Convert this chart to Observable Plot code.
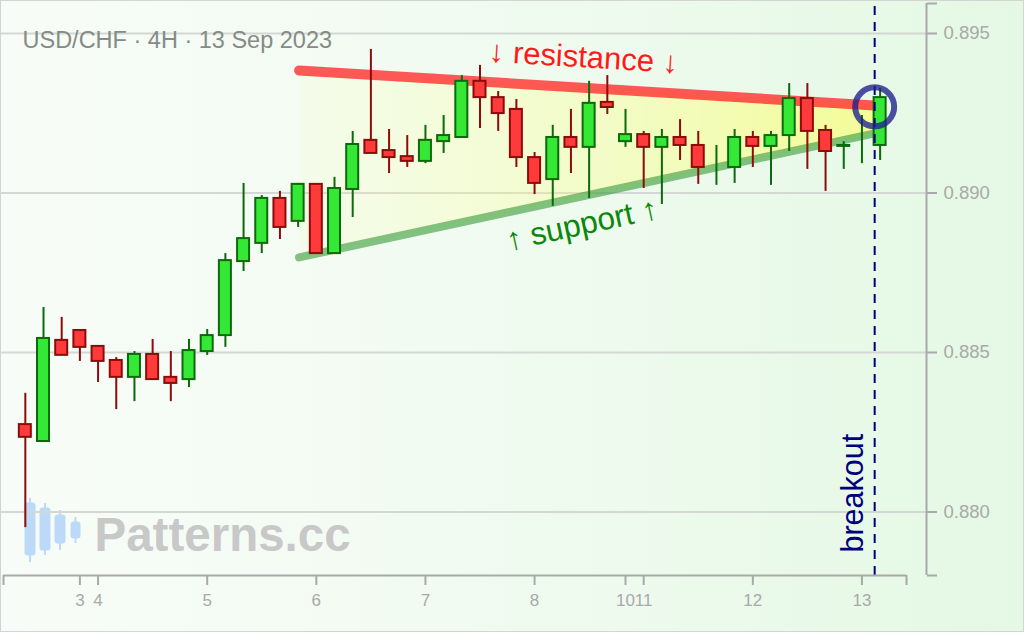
<!DOCTYPE html>
<html>
<head>
<meta charset="utf-8">
<script src="https://cdn.jsdelivr.net/npm/d3@7"></script>
<script src="https://cdn.jsdelivr.net/npm/@observablehq/plot@0.6"></script>
<style>
html, body { margin: 0; padding: 0; }
#wrap { position: relative; width: 1024px; height: 632px; overflow: hidden;
  background: linear-gradient(90deg, #f8fcf8 0%, #f1fbf1 45%, #e4f8e4 100%); }
#logo, #chart { position: absolute; left: 0; top: 0; }
#border { position: absolute; left: 0; top: 0; width: 1022px; height: 630px; border: 1px solid #d2d6d2; pointer-events: none; }
</style>
</head>
<body>
<div id="wrap">
  <svg id="logo" width="1024" height="632">
    <g fill="#bcdaf8" stroke="#bcdaf8">
      <line x1="30" y1="498" x2="30" y2="562" stroke-width="2"/><rect x="25" y="503" width="10" height="52" rx="2"/>
      <line x1="45" y1="503" x2="45" y2="555" stroke-width="2"/><rect x="40" y="508" width="10" height="42" rx="2"/>
      <line x1="60" y1="510" x2="60" y2="550" stroke-width="2"/><rect x="55" y="515" width="10" height="28" rx="2"/>
      <line x1="75.5" y1="517" x2="75.5" y2="543" stroke-width="2"/><rect x="71" y="522" width="9" height="16" rx="2"/>
    </g>
  </svg>
  <div id="chart"></div>
  <div id="border"></div>
</div>
<script>
// ---- data (USD/CHF 4H candles, index order) ----
const opens  = [0.88274,0.88221,0.88538,0.88569,0.88519,0.88475,0.88422,0.88494,0.88422,0.88415,0.88503,0.88553,0.88785,0.88842,0.88983,0.88911,0.89027,0.88810,0.89011,0.89165,0.89133,0.89114,0.89099,0.89161,0.89174,0.89350,0.89299,0.89262,0.89111,0.89042,0.89174,0.89143,0.89284,0.89161,0.89183,0.89143,0.89174,0.89149,0.89090,0.89080,0.89174,0.89146,0.89180,0.89296,0.89196,0.89146,0.89210,0.89149];
const highs  = [0.88372,0.88641,0.88610,0.88572,0.88522,0.88484,0.88503,0.88541,0.88503,0.88541,0.88572,0.88810,0.89030,0.88992,0.89005,0.89030,0.89027,0.89049,0.89193,0.89450,0.89199,0.89180,0.89212,0.89243,0.89368,0.89400,0.89318,0.89293,0.89127,0.89212,0.89262,0.89350,0.89368,0.89262,0.89193,0.89199,0.89230,0.89193,0.89149,0.89199,0.89193,0.89193,0.89343,0.89343,0.89212,0.89161,0.89243,0.89328];
const lows   = [0.87951,0.88221,0.88491,0.88472,0.88406,0.88321,0.88346,0.88415,0.88346,0.88390,0.88491,0.88516,0.88754,0.88810,0.88854,0.88892,0.88810,0.88810,0.88923,0.89124,0.89061,0.89080,0.89092,0.89124,0.89174,0.89202,0.89193,0.89080,0.88995,0.88958,0.89061,0.88983,0.89246,0.89143,0.89014,0.88964,0.89102,0.89027,0.89024,0.89030,0.89080,0.89024,0.89130,0.89074,0.89005,0.89074,0.89092,0.89102];
const closes = [0.88234,0.88544,0.88491,0.88516,0.88472,0.88422,0.88494,0.88415,0.88403,0.88506,0.88553,0.88788,0.88857,0.88983,0.88892,0.89027,0.88810,0.89014,0.89152,0.89124,0.89111,0.89099,0.89165,0.89180,0.89350,0.89299,0.89249,0.89111,0.89030,0.89174,0.89143,0.89281,0.89268,0.89183,0.89143,0.89174,0.89149,0.89080,0.89090,0.89174,0.89146,0.89180,0.89296,0.89193,0.89130,0.89149,0.89210,0.89299];

// day ticks (candle index where each day starts) and labels
const dayIdx    = [3, 4, 10, 16, 22, 28, 33, 34, 40, 46];
const dayLabels = ["3", "4", "5", "6", "7", "8", "10", "11", "12", "13"];
const yTicks      = [0.880, 0.885, 0.890, 0.895];
const yTickLabels = ["0.880", "0.885", "0.890", "0.895"];

// pattern lines (triangle): x in candle index, y in price
const lineX = [15.05, 46.7];
const resistanceY = [0.89384, 0.89274];
const supportY    = [0.88798, 0.89187];
const breakoutX = 46.7;
const breakoutY = 0.8927;

const titleText = "USD/CHF · 4H · 13 Sep 2023";
const resLabel = "↓ resistance ↓";
const supLabel = "↑ support ↑";
const resLabelPos = [30.69, 0.89425];
const supLabelPos = [30.60, 0.88901];

// ---- build ----
const X_DOMAIN = [-1.2, 48.45];
const Y_DOMAIN = [0.878009, 0.89594];
const candles = opens.map((o, i) => ({i, open: o, high: highs[i], low: lows[i], close: closes[i], up: closes[i] >= o}));
const upC = candles.filter(d => d.up), dnC = candles.filter(d => !d.up);
const tri = lineX.map((x, k) => ({x, r: resistanceY[k], s: supportY[k]}));
const AX = "#a9a9a9";
const UPF = "#36e836", UPS = "#0b6a0b", DNF = "#ff3a3a", DNS = "#8e0b0b";
const HW = 0.33;

const chart = Plot.plot({
  width: 1024, height: 632,
  marginTop: 3, marginRight: 98, marginBottom: 57, marginLeft: 0,
  style: {background: "transparent", fontFamily: "'Liberation Sans', Arial, sans-serif", overflow: "visible"},
  x: {domain: X_DOMAIN, range: [3, 906], label: null},
  y: {domain: Y_DOMAIN, label: null},
  marks: [
    Plot.gridY({ticks: yTicks, stroke: "#d4d8d4", strokeOpacity: 1, strokeWidth: 2}),
    Plot.text([titleText], {frameAnchor: "top-left", dx: 22, dy: 28, textAnchor: "start", lineAnchor: "top", fontSize: 23.5, fill: "#858c85", text: d => d}),
    Plot.text(["Patterns.cc"], {frameAnchor: "top-left", dx: 94, dy: 514, textAnchor: "start", lineAnchor: "top", fontSize: 47.5, fontWeight: "bold", fill: "#c8c8c8", text: d => d}),
    Plot.areaY(tri, {x: "x", y1: "s", y2: "r", fill: "url(#triGrad)"}),
    Plot.line(tri, {x: "x", y: "r", stroke: "#ff2a2a", strokeOpacity: 0.78, strokeWidth: 10, strokeLinecap: "round"}),
    Plot.line(tri, {x: "x", y: "s", stroke: "#3c9c3c", strokeOpacity: 0.62, strokeWidth: 8, strokeLinecap: "round"}),
    Plot.ruleX(upC, {x: "i", y1: "low", y2: "high", stroke: UPS, strokeWidth: 2}),
    Plot.ruleX(dnC, {x: "i", y1: "low", y2: "high", stroke: DNS, strokeWidth: 2}),
    Plot.rectY(upC, {x1: d => d.i - HW, x2: d => d.i + HW, y1: "open", y2: "close", fill: UPF, stroke: UPS, strokeWidth: 2}),
    Plot.rectY(dnC, {x1: d => d.i - HW, x2: d => d.i + HW, y1: "open", y2: "close", fill: DNF, stroke: DNS, strokeWidth: 2}),
    Plot.ruleX([breakoutX], {y1: Y_DOMAIN[0], y2: Y_DOMAIN[1] + 0.0001, stroke: "#00007f", strokeWidth: 2, strokeDasharray: "9,7"}),
    Plot.dot([{x: breakoutX, y: breakoutY}], {x: "x", y: "y", r: 19.5, fill: "none", stroke: "#1e1e8c", strokeOpacity: 0.78, strokeWidth: 6}),
    Plot.text(["breakout"], {x: breakoutX, frameAnchor: "bottom", rotate: -90, textAnchor: "start", lineAnchor: "middle", dx: -21, dy: -23, fontSize: 30.5, fill: "#00007f", text: d => d}),
    Plot.text([resLabel], {x: resLabelPos[0], y: resLabelPos[1], rotate: 3.5, fontSize: 31, fill: "#ff1a1a", text: d => d}),
    Plot.text([supLabel], {x: supLabelPos[0], y: supLabelPos[1], rotate: -12.2, fontSize: 31.5, fill: "#0c870c", text: d => d}),
    Plot.ruleY([Y_DOMAIN[0]], {x1: X_DOMAIN[0], x2: X_DOMAIN[1], stroke: AX, strokeWidth: 2}),
    Plot.axisX({ticks: [X_DOMAIN[0], ...dayIdx, X_DOMAIN[1]],
      tickFormat: d => { const k = dayIdx.indexOf(d); return k < 0 ? "" : dayLabels[k]; },
      tickSize: 10, tickPadding: 8, fontSize: 17, color: AX, strokeWidth: 2, label: null}),
    Plot.ruleX([X_DOMAIN[1]], {dx: 20, y1: Y_DOMAIN[0], y2: Y_DOMAIN[1], stroke: AX, strokeWidth: 2}),
    Plot.axisY({anchor: "right", ticks: [Y_DOMAIN[0], ...yTicks, Y_DOMAIN[1]],
      tickFormat: d => { const k = yTicks.findIndex(t => Math.abs(t - d) < 1e-9); return k < 0 ? "" : yTickLabels[k]; },
      tickSize: 10, tickPadding: 7, fontSize: 18.5, color: AX, strokeWidth: 2, label: null})
  ]
});

const defs = document.createElementNS("http://www.w3.org/2000/svg", "defs");
defs.innerHTML = '<linearGradient id="triGrad" x1="0" x2="1" y1="0" y2="0">' +
  '<stop offset="0" stop-color="#ffff90" stop-opacity="0.1"/>' +
  '<stop offset="0.6" stop-color="#ffff66" stop-opacity="0.33"/>' +
  '<stop offset="1" stop-color="#ffff4d" stop-opacity="0.52"/></linearGradient>';
chart.insertBefore(defs, chart.firstChild);
document.getElementById("chart").appendChild(chart);
</script>
</body>
</html>
